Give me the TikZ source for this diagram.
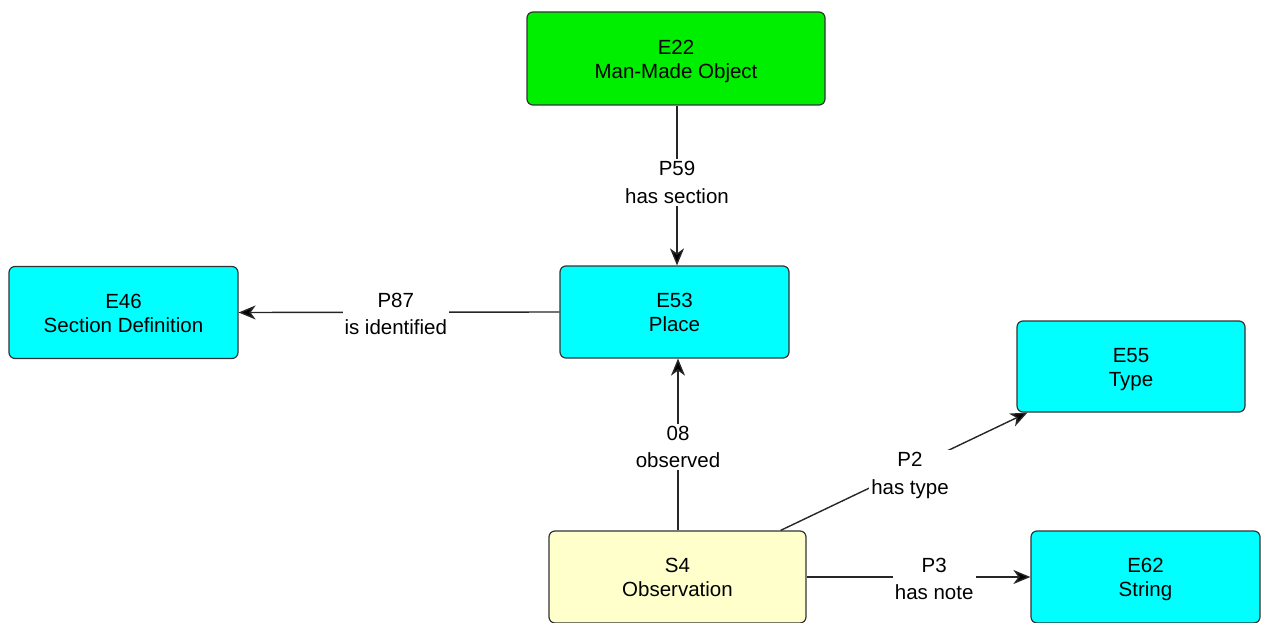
\documentclass[tikz,border=0pt]{standalone}
\usepackage{fontspec}
\setmainfont{Liberation Sans}
\usetikzlibrary{arrows.meta,calc}
\definecolor{boxgreen}{HTML}{00EE00}
\definecolor{boxcyan}{HTML}{00FFFF}
\definecolor{boxyellow}{HTML}{FFFFCC}
\definecolor{edgegray}{HTML}{333333}
\newcommand\twoline[2]{\raisebox{-8pt}[0pt][0pt]{\begin{tabular}{@{}c@{}}#1\\#2\end{tabular}}}
\tikzset{
  entity/.style={draw=edgegray, line width=1.2pt, rounded corners=6pt,
    font=\fontsize{20.5}{24}\selectfont, inner sep=0pt},
  rel/.style={line width=1.4pt, draw=black!85, -{Stealth[length=17pt,width=14pt,inset=5pt,fill=black]}},
  lbl/.style={fill=white, align=center, font=\fontsize{20.5}{27.5}\selectfont, inner sep=2pt}
}
\begin{document}
\begin{tikzpicture}[x=1pt,y=-1pt]
\useasboundingbox (0,0) rectangle (1263,623);
\clip (0,0) rectangle (1263,623);
\node[entity, fill=boxgreen, minimum width=298pt, minimum height=93pt] (E22) at (676,58.5) {\twoline{E22}{Man-Made Object}};
\node[entity, fill=boxcyan, minimum width=229pt, minimum height=92pt] (E53) at (674.5,312) {\twoline{E53}{Place}};
\node[entity, fill=boxcyan, minimum width=229pt, minimum height=92pt] (E46) at (123.5,312.5) {\twoline{E46}{Section Definition}};
\node[entity, fill=boxcyan, minimum width=228pt, minimum height=91pt] (E55) at (1131,366.5) {\twoline{E55}{Type}};
\node[entity, fill=boxcyan, minimum width=229pt, minimum height=92pt] (E62) at (1145.5,577) {\twoline{E62}{String}};
\node[entity, fill=boxyellow, minimum width=257pt, minimum height=92pt] (S4) at (677.5,577) {\twoline{S4}{Observation}};

\coordinate (a1) at ($(E22.south)+(1,0)$);
\draw[rel] (a1) -- (a1 |- E53.north) node[lbl, midway, yshift=3pt] {P59\\has section};

\draw[rel] (E53.west) -- (E46.east) node[lbl, pos=0.51, yshift=-1.5pt] {P87\\is identified};

\coordinate (s1) at ($(S4.north)+(0.5,0)$);
\draw[rel] (s1) -- (s1 |- E53.south) node[lbl, midway, yshift=-2.5pt] {08\\observed};

\coordinate (s2) at ($(S4.north east)+(-26,0)$);
\coordinate (t2) at ($(E55.south west)+(11,0)$);
\draw[rel] (s2) -- (t2) node[lbl, midway, yshift=-4pt, xshift=6pt] {P2\\has type};

\draw[rel] (S4.east) -- (E62.west) node[lbl, pos=0.57, yshift=-2pt] {P3\\has note};
\end{tikzpicture}
\end{document}
